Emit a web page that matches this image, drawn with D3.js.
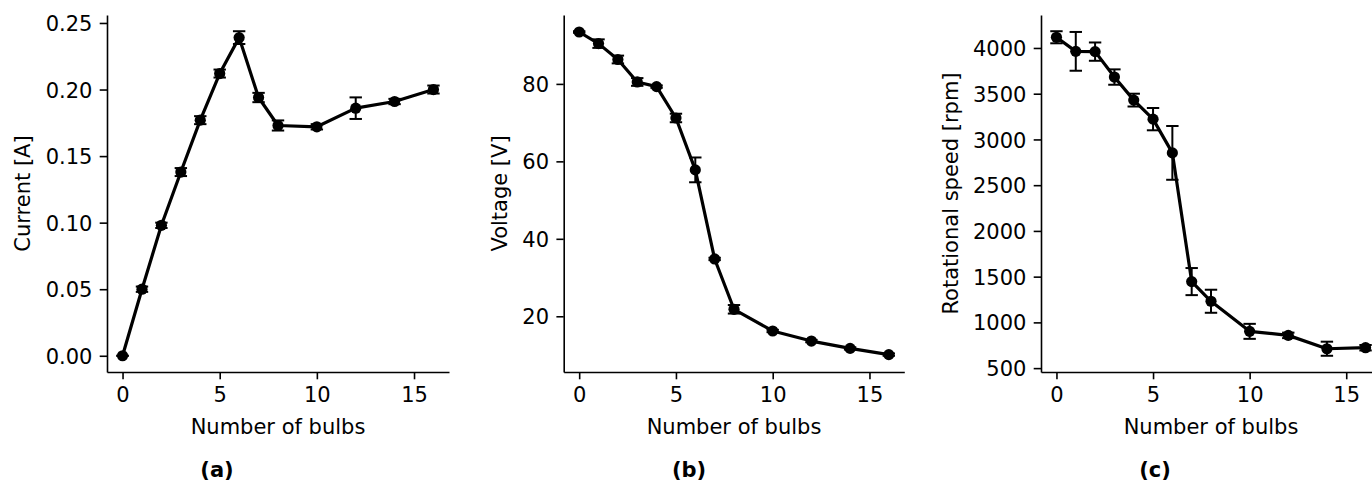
<html>
  <head>
    <script src="https://d3js.org/d3.v7.min.js"></script>
    <style>
      body { margin: 0; background: white; }
      text { font-family: "DejaVu Sans", sans-serif; fill: #000; }
    </style>
  </head>
  <body>
    <svg id="fig" width="1372" height="485"></svg>
    <script>
      // measured values, one entry per bulb count
      const bulbs = [0, 1, 2, 3, 4, 5, 6, 7, 8, 10, 12, 14, 16];

      const current = [0.000, 0.050, 0.098, 0.138, 0.177, 0.212, 0.239, 0.194, 0.173, 0.172, 0.186, 0.191, 0.200];
      const currentErr = [0.000, 0.002, 0.002, 0.003, 0.003, 0.003, 0.0048, 0.0035, 0.0038, 0.002, 0.0081, 0.002, 0.003];

      const voltage = [93.4, 90.4, 86.3, 80.5, 79.3, 71.2, 57.8, 34.8, 21.8, 16.2, 13.6, 11.7, 10.1];
      const voltageErr = [0.2, 1.1, 1.0, 1.0, 0.3, 1.1, 3.2, 0.3, 1.1, 0.3, 0.3, 0.3, 0.3];

      const speed = [4117, 3963, 3960, 3682, 3430, 3222, 2853, 1446, 1231, 902, 858, 712, 723];
      const speedErr = [66, 212, 100, 84, 70, 122, 294, 148, 126, 82, 30, 77, 30];

      const xTicks = [0, 5, 10, 15];
      const currentTicks = [0, 0.05, 0.10, 0.15, 0.20, 0.25];
      const voltageTicks = [20, 40, 60, 80];
      const speedTicks = [500, 1000, 1500, 2000, 2500, 3000, 3500, 4000];

      const svg = d3.select("#fig");
      svg.append("rect").attr("width", 1372).attr("height", 485).attr("fill", "white");

      const plotTop = 15, plotBottom = 372;
      const tickLen = 7.3, tickPad = 7.3;

      const panels = [
        { left: 107, right: 449, values: current, errs: currentErr, ticks: currentTicks,
          fmt: d3.format(".2f"), ylabel: "Current [A]", caption: "(a)", capX: 217 },
        { left: 563.7, right: 904.3, values: voltage, errs: voltageErr, ticks: voltageTicks,
          fmt: d3.format("d"), ylabel: "Voltage [V]", caption: "(b)", capX: 689 },
        { left: 1041, right: 1381, values: speed, errs: speedErr, ticks: speedTicks,
          fmt: d3.format("d"), ylabel: "Rotational speed [rpm]", caption: "(c)", capX: 1155 }
      ];

      panels.forEach((p) => {
        const g = svg.append("g");

        // matplotlib style 5% margins
        const lo = d3.min(p.values, (v, i) => v - p.errs[i]);
        const hi = d3.max(p.values, (v, i) => v + p.errs[i]);
        const pad = (hi - lo) * 0.05;
        const y = d3.scaleLinear().domain([lo - pad, hi + pad]).range([plotBottom, plotTop]);
        const xpad = (d3.max(bulbs) - d3.min(bulbs)) * 0.05;
        const x = d3.scaleLinear().domain([d3.min(bulbs) - xpad, d3.max(bulbs) + xpad]).range([p.left, p.right]);

        // x axis
        const xAxis = g.append("g")
          .attr("transform", `translate(0,${plotBottom})`)
          .call(d3.axisBottom(x).tickValues(xTicks).tickSize(tickLen).tickPadding(tickPad).tickSizeOuter(0));
        xAxis.select(".domain").attr("stroke", "#000").attr("stroke-width", 1.6);
        xAxis.selectAll(".tick line").attr("stroke", "#000").attr("stroke-width", 1.6);
        xAxis.selectAll(".tick text")
          .attr("font-size", 21).attr("font-family", "DejaVu Sans").attr("fill", "#000")
          .attr("dy", "0.71em");

        // y axis
        const yAxis = g.append("g")
          .attr("transform", `translate(${p.left},0)`)
          .call(d3.axisLeft(y).tickValues(p.ticks).tickFormat(p.fmt).tickSize(tickLen).tickPadding(tickPad).tickSizeOuter(0));
        yAxis.select(".domain").attr("stroke", "#000").attr("stroke-width", 1.6);
        yAxis.selectAll(".tick line").attr("stroke", "#000").attr("stroke-width", 1.6);
        yAxis.selectAll(".tick text")
          .attr("font-size", 21).attr("font-family", "DejaVu Sans").attr("fill", "#000")
          .attr("dy", "0.36em");

        let maxW = 0;
        yAxis.selectAll(".tick text").each(function () {
          maxW = Math.max(maxW, this.getComputedTextLength());
        });

        // labels
        g.append("text")
          .attr("x", (p.left + p.right) / 2)
          .attr("y", 434)
          .attr("text-anchor", "middle")
          .attr("font-size", 21)
          .text("Number of bulbs");

        const lx = p.left - tickLen - tickPad - maxW - 8.3 - 7;
        g.append("text")
          .attr("transform", `translate(${lx},${(plotTop + plotBottom) / 2}) rotate(-90)`)
          .attr("text-anchor", "middle")
          .attr("font-size", 21)
          .text(p.ylabel);

        svg.append("text")
          .attr("x", p.capX)
          .attr("y", 477)
          .attr("text-anchor", "middle")
          .attr("font-family", "Lato, 'Open Sans', sans-serif")
          .attr("font-weight", "bold")
          .attr("font-size", 21)
          .text(p.caption);

        // data
        const pts = bulbs.map((b, i) => ({ b: b, v: p.values[i], e: p.errs[i] }));

        const line = d3.line().x((d) => x(d.b)).y((d) => y(d.v));
        g.append("path")
          .datum(pts)
          .attr("d", line)
          .attr("fill", "none")
          .attr("stroke", "#000")
          .attr("stroke-width", 3.2)
          .attr("stroke-linejoin", "round");

        const eb = g.selectAll("g.err").data(pts).join("g").attr("class", "err");
        eb.append("line")
          .attr("x1", (d) => x(d.b)).attr("x2", (d) => x(d.b))
          .attr("y1", (d) => y(d.v - d.e)).attr("y2", (d) => y(d.v + d.e))
          .attr("stroke", "#000").attr("stroke-width", 2);
        [-1, 1].forEach((s) => {
          eb.append("line")
            .attr("x1", (d) => x(d.b) - 6.2).attr("x2", (d) => x(d.b) + 6.2)
            .attr("y1", (d) => y(d.v + s * d.e)).attr("y2", (d) => y(d.v + s * d.e))
            .attr("stroke", "#000").attr("stroke-width", 2);
        });

        g.selectAll("circle.pt")
          .data(pts)
          .join("circle")
          .attr("class", "pt")
          .attr("cx", (d) => x(d.b))
          .attr("cy", (d) => y(d.v))
          .attr("r", 5.6)
          .attr("fill", "#000");
      });
    </script>
  </body>
</html>
